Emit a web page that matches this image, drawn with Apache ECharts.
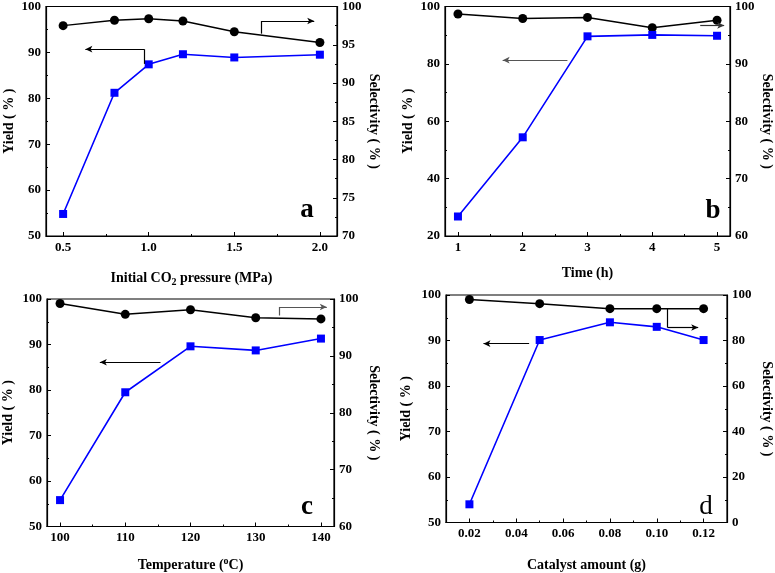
<!DOCTYPE html>
<html>
<head>
<meta charset="utf-8">
<script src="https://cdn.jsdelivr.net/npm/echarts@6/dist/echarts.min.js"></script>
<style>html,body{margin:0;padding:0;background:#fff;}#c{width:775px;height:573px;}</style>
</head>
<body>
<div id="c"></div>
<script>
// ---- data ----
const aX = [0.5, 0.8, 1.0, 1.2, 1.5, 2.0];
const aYield = [54.8, 81.2, 87.4, 89.6, 88.9, 89.5];
const aSel = [97.5, 98.2, 98.4, 98.1, 96.7, 95.3];

const bX = [1, 2, 3, 4, 5];
const bYield = [26.8, 54.4, 89.6, 90.1, 89.8];
const bSel = [98.7, 97.9, 98.1, 96.3, 97.6];

const cX = [100, 110, 120, 130, 140];
const cYield = [55.8, 79.5, 89.6, 88.7, 91.3];
const cSel = [99.2, 97.3, 98.1, 96.7, 96.5];

const dX = [0.02, 0.05, 0.08, 0.10, 0.12];
const dYield = [54.0, 90.1, 94.0, 93.0, 90.1];
const dSel = [98.0, 96.2, 94.0, 94.0, 94.0];

// tick labels
const aXTicks = [0.5, 1.0, 1.5, 2.0];
const aXMinor = [0.75, 1.25, 1.75];
const bXTicks = [1, 2, 3, 4, 5];
const bXMinor = [1.5, 2.5, 3.5, 4.5];
const cXTicks = [100, 110, 120, 130, 140];
const cXMinor = [105, 115, 125, 135];
const dXTicks = [0.02, 0.04, 0.06, 0.08, 0.10, 0.12];
const dXMinor = [0.03, 0.05, 0.07, 0.09, 0.11];

const xNames = ['{n|Initial CO}{sub|2}{n| pressure (MPa)}', '{n|Time (h)}', '{n|Temperature (}{sup|o}{n|C)}', '{n|Catalyst amount (g)}'];
const yLeftName = 'Yield ( % )';
const yRightName = 'Selectivity ( % )';
const panelLetters = ['a', 'b', 'c', 'd'];

// annotation arrows (data coords)
const arrows = [
  [{ax: 'l', pts: [[0.973, 87.5], [0.973, 90.7], [0.63, 90.7]], color: '#000'},
   {ax: 'r', pts: [[1.657, 96.45], [1.657, 98.1], [1.967, 98.1]], color: '#000'}],
  [{ax: 'l', pts: [[2.69, 81.3], [1.69, 81.3]], color: '#555'},
   {ax: 'r', pts: [[4.74, 96.7], [5.11, 96.7]], color: '#333'}],
  [{ax: 'l', pts: [[115.4, 86.1], [106.1, 86.1]], color: '#000'},
   {ax: 'r', pts: [[133.6, 97.1], [133.6, 98.6], [140.9, 98.6]], color: '#555'}],
  [{ax: 'l', pts: [[0.0455, 89.3], [0.026, 89.3]], color: '#000'},
   {ax: 'r', pts: [[0.1046, 94.0], [0.1046, 85.7], [0.1177, 85.7]], color: '#000'}]
];

// ---- layout ----
const FONT = 'Liberation Serif';
const panels = [
  {grid: {left: 46, top: 5, width: 291, height: 231}, xs: aX, yl: aYield, yr: aSel,
   xmin: 0.4, xmax: 2.1, xt: aXTicks, xm: aXMinor, xd: 1,
   lmin: 50, lmax: 100, lint: 10, rmin: 70, rmax: 100, rint: 5, xGap: 34, lGap: 30, rGap: 30,
   letter: {x: 307, y: 210, bold: true}},
  {grid: {left: 445, top: 5, width: 290, height: 231}, xs: bX, yl: bYield, yr: bSel,
   xmin: 0.8, xmax: 5.2, xt: bXTicks, xm: bXMinor, xd: 0,
   lmin: 20, lmax: 100, lint: 20, rmin: 60, rmax: 100, rint: 10, xGap: 29, lGap: 30, rGap: 30,
   letter: {x: 713, y: 211, bold: true}},
  {grid: {left: 39, top: 299, width: 295, height: 232}, xs: cX, yl: cYield, yr: cSel,
   xmin: 98, xmax: 142, xt: cXTicks, xm: cXMinor, xd: 0,
   lmin: 50, lmax: 100, lint: 10, rmin: 60, rmax: 100, rint: 10, xGap: 30, lGap: 32, rGap: 33,
   letter: {x: 307, y: 507, bold: true}},
  {grid: {left: 446, top: 295, width: 291, height: 235}, xs: dX, yl: dYield, yr: dSel,
   xmin: 0.01, xmax: 0.13, xt: dXTicks, xm: dXMinor, xd: 2,
   lmin: 50, lmax: 100, lint: 10, rmin: 0, rmax: 100, rint: 20, xGap: 34, lGap: 33, rGap: 33,
   letter: {x: 706, y: 507, bold: false}}
];

const labelStyle = {color: '#000', fontFamily: FONT, fontWeight: 'bold', fontSize: 13};
const nameStyle = {color: '#000', fontFamily: FONT, fontWeight: 'bold', fontSize: 14};
const richName = {
  n: {fontFamily: FONT, fontWeight: 'bold', fontSize: 14, color: '#000', lineHeight: 17, verticalAlign: 'middle'},
  sub: {fontFamily: FONT, fontWeight: 'bold', fontSize: 10, color: '#000', lineHeight: 10, verticalAlign: 'bottom'},
  sup: {fontFamily: FONT, fontWeight: 'bold', fontSize: 10, color: '#000', lineHeight: 10, verticalAlign: 'top'}
};

const grids = [], xAxes = [], yAxes = [], series = [], graphics = [];

function pair(xs, ys) { return xs.map((x, i) => [x, ys[i]]); }
function arrowLines(a) {
  const segs = [];
  for (let i = 0; i < a.pts.length - 1; i++) {
    const last = i === a.pts.length - 2;
    segs.push([{coord: a.pts[i], symbol: 'none'}, {coord: a.pts[i + 1], symbol: last ? 'arrow' : 'none'}]);
  }
  return {
    silent: true, animation: false, symbolSize: [5, 7],
    label: {show: false},
    lineStyle: {color: a.color, width: 1.2, type: 'solid'},
    itemStyle: {color: a.color},
    emphasis: {disabled: true},
    data: segs
  };
}

panels.forEach((p, g) => {
  grids.push(Object.assign({show: true, borderColor: '#000', borderWidth: 1.2, backgroundColor: 'transparent', containLabel: false}, p.grid));
  const xi = xAxes.length;
  xAxes.push({
    type: 'value', gridIndex: g, min: p.xmin, max: p.xmax, position: 'bottom',
    name: xNames[g], nameLocation: 'middle', nameGap: p.xGap,
    nameTextStyle: Object.assign({}, nameStyle, {rich: richName}),
    axisLine: {show: true, onZero: false, lineStyle: {color: '#000', width: 1.2}},
    axisTick: {show: true, inside: true, length: 4, customValues: p.xt, lineStyle: {color: '#000'}},
    axisLabel: Object.assign({customValues: p.xt, margin: 5, formatter: v => Number(v).toFixed(p.xd)}, labelStyle),
    splitLine: {show: false}
  });
  xAxes.push({
    type: 'value', gridIndex: g, min: p.xmin, max: p.xmax, position: 'bottom',
    axisLine: {show: false, onZero: false},
    axisTick: {show: true, inside: true, length: 2, customValues: p.xm, lineStyle: {color: '#000'}},
    axisLabel: {show: false, customValues: p.xm},
    splitLine: {show: false}
  });
  const yl = yAxes.length;
  yAxes.push({
    type: 'value', gridIndex: g, min: p.lmin, max: p.lmax, interval: p.lint, position: 'left',
    name: yLeftName, nameLocation: 'middle', nameGap: p.lGap, nameRotate: 90, nameTextStyle: nameStyle,
    axisLine: {show: true, onZero: false, lineStyle: {color: '#000', width: 1.2}},
    axisTick: {show: true, inside: true, length: 4, lineStyle: {color: '#000'}},
    minorTick: {show: true, splitNumber: 2, length: 2, lineStyle: {color: '#000'}},
    axisLabel: Object.assign({margin: 5}, labelStyle),
    splitLine: {show: false}, minorSplitLine: {show: false}
  });
  yAxes.push({
    type: 'value', gridIndex: g, min: p.rmin, max: p.rmax, interval: p.rint, position: 'right',
    name: yRightName, nameLocation: 'middle', nameGap: p.rGap, nameRotate: -90, nameTextStyle: nameStyle,
    axisLine: {show: true, onZero: false, lineStyle: {color: '#000', width: 1.2}},
    axisTick: {show: true, inside: true, length: 4, lineStyle: {color: '#000'}},
    minorTick: {show: true, splitNumber: 2, length: 2, lineStyle: {color: '#000'}},
    axisLabel: Object.assign({margin: 5}, labelStyle),
    splitLine: {show: false}, minorSplitLine: {show: false}
  });
  const arr = arrows[g];
  series.push({
    type: 'line', xAxisIndex: xi, yAxisIndex: yl + 1, data: pair(p.xs, p.yr),
    symbol: 'circle', symbolSize: 9, showSymbol: true,
    lineStyle: {color: '#000', width: 1.5}, itemStyle: {color: '#000'},
    markLine: arrowLines(arr[1]), z: 3
  });
  series.push({
    type: 'line', xAxisIndex: xi, yAxisIndex: yl, data: pair(p.xs, p.yl),
    symbol: 'rect', symbolSize: 8, showSymbol: true,
    lineStyle: {color: '#0000ff', width: 1.6}, itemStyle: {color: '#0000ff'},
    markLine: arrowLines(arr[0]), z: 4
  });
  graphics.push({
    type: 'text', x: p.letter.x, y: p.letter.y, silent: true,
    style: {text: panelLetters[g], font: (p.letter.bold ? 'bold ' : '') + '27px "' + FONT + '"',
            fill: '#000', textAlign: 'center', textVerticalAlign: 'middle'}
  });
});

const chart = echarts.init(document.getElementById('c'), null, {renderer: 'canvas'});
chart.setOption({
  animation: false,
  backgroundColor: '#fff',
  grid: grids, xAxis: xAxes, yAxis: yAxes, series: series, graphic: graphics
});
</script>
</body>
</html>
